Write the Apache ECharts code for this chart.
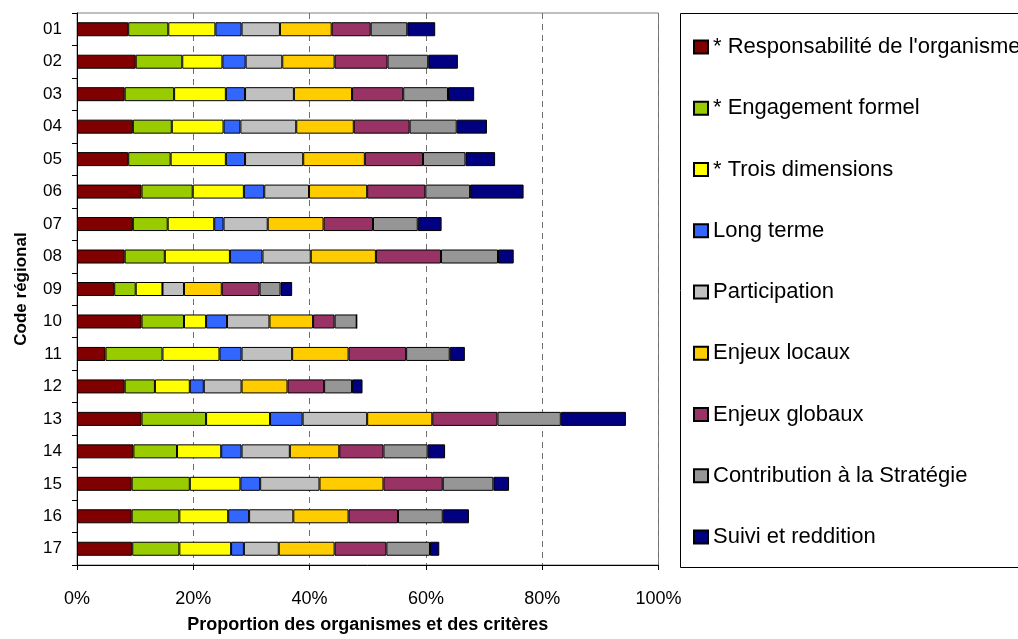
<!DOCTYPE html>
<html>
<head>
<meta charset="utf-8">
<script src="https://cdn.jsdelivr.net/npm/echarts@6/dist/echarts.min.js"></script>
<style>
  html, body { margin: 0; padding: 0; background: #fff; }
  #chart { width: 1018px; height: 639px; }
</style>
</head>
<body>
<div id="chart"></div>
<script>
// codes régionaux (de haut en bas)
const codes = ['01', '02', '03', '04', '05', '06', '07', '08', '09', '10', '11', '12', '13', '14', '15', '16', '17'];

const criteres = [
    "* Responsabilité de l'organisme",
    '* Engagement formel',
    '* Trois dimensions',
    'Long terme',
    'Participation',
    'Enjeux locaux',
    'Enjeux globaux',
    'Contribution à la Stratégie',
    'Suivi et reddition',
];

const couleurs = ['#800000', '#99cc00', '#ffff00', '#3366ff', '#c0c0c0', '#ffcc00', '#993366', '#969696', '#000080'];

// valeurs en %, une entrée par code régional
const responsabilite = [8.8, 10.1, 8.2, 9.6, 8.8, 11.1, 9.6, 8.2, 6.4, 11.1, 4.9, 8.2, 11.1, 9.7, 9.4, 9.4, 9.5];
const engagement     = [6.9, 8.0, 8.5, 6.7, 7.3, 8.8, 6.0, 6.9, 3.7, 7.3, 9.8, 5.2, 11.1, 7.5, 10.0, 8.2, 8.1];
const troisDim       = [8.1, 6.9, 8.9, 8.9, 9.5, 8.8, 8.0, 11.2, 4.6, 3.8, 9.8, 6.0, 11.0, 7.6, 8.7, 8.4, 8.9];
const longTerme      = [4.5, 4.0, 3.3, 2.9, 3.3, 3.5, 1.6, 5.6, 0, 3.6, 3.8, 2.4, 5.6, 3.5, 3.4, 3.6, 2.2];
const participation  = [6.6, 6.3, 8.4, 9.6, 10.0, 7.7, 7.6, 8.3, 3.7, 7.3, 8.7, 6.5, 11.1, 8.3, 10.2, 7.6, 6.0];
const enjeuxLocaux   = [8.9, 9.0, 10.0, 9.9, 10.6, 10.0, 9.6, 11.2, 6.5, 7.5, 9.7, 7.9, 11.2, 8.5, 11.0, 9.5, 9.6];
const enjeuxGlobaux  = [6.7, 9.1, 8.8, 9.6, 10.0, 10.0, 8.5, 11.2, 6.5, 3.7, 9.9, 6.3, 11.2, 7.6, 10.2, 8.5, 8.9];
const contribution   = [6.3, 7.0, 7.7, 8.1, 7.3, 7.7, 7.7, 9.8, 3.6, 3.8, 7.5, 4.8, 10.9, 7.6, 8.7, 7.7, 7.5];
const suivi          = [4.8, 5.1, 4.5, 5.2, 5.1, 9.2, 4.1, 2.7, 2.0, 0, 2.6, 1.8, 11.2, 3.0, 2.7, 4.5, 1.6];

const valeurs = [responsabilite, engagement, troisDim, longTerme, participation,
    enjeuxLocaux, enjeuxGlobaux, contribution, suivi];

const FONT = '"Liberation Sans", Arial, sans-serif';

const chart = echarts.init(document.getElementById('chart'));

chart.setOption({
    animation: false,
    textStyle: {fontFamily: FONT, color: '#000'},
    grid: {
        left: 77, top: 13, width: 581.5, height: 553,
        show: true, borderColor: '#808080', borderWidth: 1,
    },
    graphic: [{
        type: 'rect',
        shape: {x: 680.5, y: 13.5, width: 400, height: 554},
        style: {fill: 'none', stroke: '#000', lineWidth: 1},
        silent: true,
    }],
    legend: {
        orient: 'vertical',
        left: 688, top: 31,
        itemWidth: 14, itemHeight: 13,
        itemGap: 39.25,
        icon: 'rect',
        textStyle: {fontFamily: FONT, fontSize: 22, lineHeight: 22, color: '#000'},
        data: criteres,
    },
    xAxis: {
        type: 'value',
        min: 0, max: 100, interval: 20,
        axisLine: {show: true, lineStyle: {color: '#000'}},
        axisTick: {show: true, length: 5, lineStyle: {color: '#000'}},
        axisLabel: {formatter: '{value}%', fontSize: 18, margin: 25, color: '#000'},
        splitLine: {show: true, lineStyle: {color: '#707070', type: [6, 5], width: 1}},
        name: 'Proportion des organismes et des critères',
        nameLocation: 'middle', nameGap: 51,
        nameTextStyle: {fontSize: 18, fontWeight: 'bold', color: '#000'},
    },
    yAxis: {
        type: 'category',
        data: codes,
        inverse: true,
        axisLine: {show: true, lineStyle: {color: '#000'}},
        axisTick: {show: true, length: 5, lineStyle: {color: '#000'}},
        axisLabel: {fontSize: 17, margin: 15, color: '#000'},
        name: 'Code régional',
        nameLocation: 'middle', nameRotate: 90, nameGap: 47,
        nameTextStyle: {fontSize: 17, fontWeight: 'bold', color: '#000'},
    },
    series: criteres.map((nom, i) => ({
        name: nom,
        type: 'bar',
        stack: 'total',
        barWidth: 14,
        data: valeurs[i],
        itemStyle: {color: couleurs[i], borderColor: '#000', borderWidth: 1},
    })),
});
</script>
</body>
</html>
